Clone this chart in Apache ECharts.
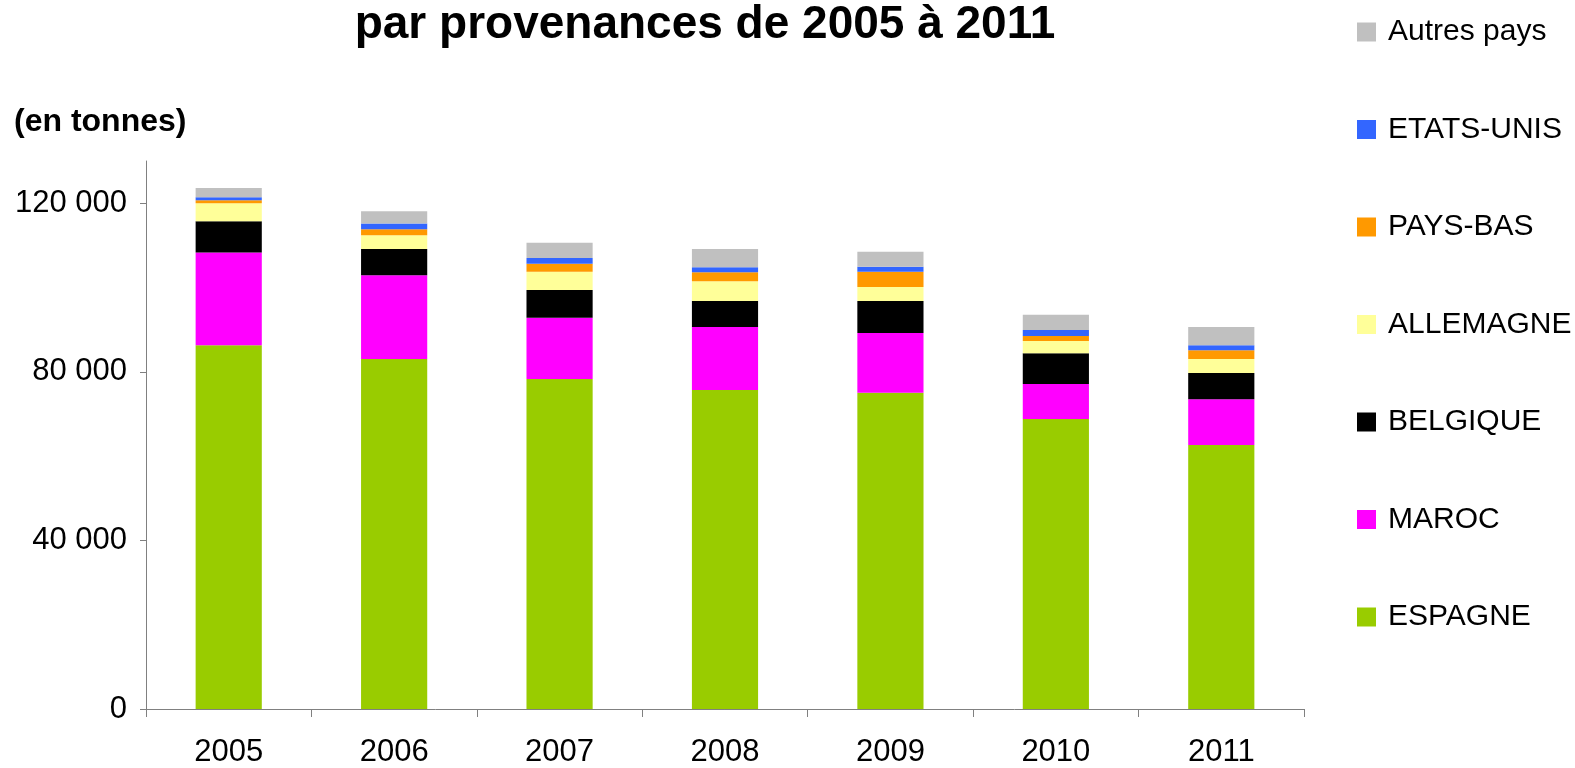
<!DOCTYPE html>
<html lang="fr">
<head>
    <meta charset="utf-8"/>
    <title>par provenances de 2005 à 2011</title>
    <script src="https://cdn.jsdelivr.net/npm/echarts@6/dist/echarts.min.js"></script>
</head>
<body style="margin: 0;">
<div id="chart" style="width: 1575px;height: 768px;"></div>

<script type="text/javascript">
    // années
    const years = ['2005', '2006', '2007', '2008', '2009', '2010', '2011'];
    // tonnages par provenance
    const espagne = [86300, 83000, 78300, 75700, 75000, 68800, 62600];
    const maroc = [22000, 19900, 14500, 14900, 14200, 8300, 10900];
    const belgique = [7400, 6200, 6600, 6200, 7600, 7300, 6200];
    const allemagne = [4300, 3300, 4300, 4700, 3300, 2900, 3300];
    const paysBas = [700, 1400, 1900, 2100, 3600, 1200, 2100];
    const etatsUnis = [700, 1400, 1400, 1200, 1200, 1400, 1200];
    const autres = [2200, 2900, 3600, 4300, 3600, 3600, 4300];
    const yTicks = [0, 40000, 80000, 120000];

    const font = 'Liberation Sans, Arial, sans-serif';

    function serie(name, data, color) {
        return {
            name: name,
            type: 'bar',
            stack: 'total',
            barWidth: '40%',
            data: data,
            itemStyle: {color: color},
            emphasis: {disabled: true}
        };
    }

    let chart = echarts.init(document.getElementById('chart'));
    chart.setOption({
        animation: false,
        backgroundColor: '#ffffff',
        title: [{
            text: 'par provenances de 2005 à 2011',
            left: 700,
            textAlign: 'center',
            top: -3,
            textStyle: {fontFamily: font, fontSize: 46, fontWeight: 'bold', color: '#000'}
        }, {
            text: '(en tonnes)',
            left: 9,
            top: 101,
            textStyle: {fontFamily: font, fontSize: 32, fontWeight: 'bold', color: '#000'}
        }],
        legend: {
            orient: 'vertical',
            left: 1352,
            top: 11,
            icon: 'rect',
            itemWidth: 19,
            itemHeight: 19,
            itemGap: 65.5,
            selectedMode: false,
            textStyle: {fontFamily: font, fontSize: 30, lineHeight: 32, color: '#000', padding: [0, 0, 0, 7]},
            data: ['Autres pays', 'ETATS-UNIS', 'PAYS-BAS', 'ALLEMAGNE', 'BELGIQUE', 'MAROC', 'ESPAGNE']
        },
        grid: {left: 146, right: 271, top: 161, bottom: 59},
        xAxis: {
            type: 'category',
            data: years,
            axisLine: {lineStyle: {color: '#808080', width: 1}},
            axisTick: {show: true, length: 8, lineStyle: {color: '#808080'}},
            axisLabel: {fontFamily: font, fontSize: 31, color: '#000', margin: 28}
        },
        yAxis: {
            type: 'value',
            min: 0,
            max: 130000,
            interval: 40000,
            splitLine: {show: false},
            axisLine: {show: true, lineStyle: {color: '#808080', width: 1}},
            axisTick: {show: true, length: 6, lineStyle: {color: '#808080'}, customValues: yTicks},
            axisLabel: {
                fontFamily: font, fontSize: 31, color: '#000', margin: 19,
                customValues: yTicks,
                formatter: function (v) {
                    return String(v).replace(/\B(?=(\d{3})+(?!\d))/g, ' ');
                }
            }
        },
        series: [
            serie('ESPAGNE', espagne, '#99CC00'),
            serie('MAROC', maroc, '#FF00FF'),
            serie('BELGIQUE', belgique, '#000000'),
            serie('ALLEMAGNE', allemagne, '#FFFF99'),
            serie('PAYS-BAS', paysBas, '#FF9900'),
            serie('ETATS-UNIS', etatsUnis, '#3366FF'),
            serie('Autres pays', autres, '#C0C0C0')
        ]
    });
</script>
</body>
</html>
